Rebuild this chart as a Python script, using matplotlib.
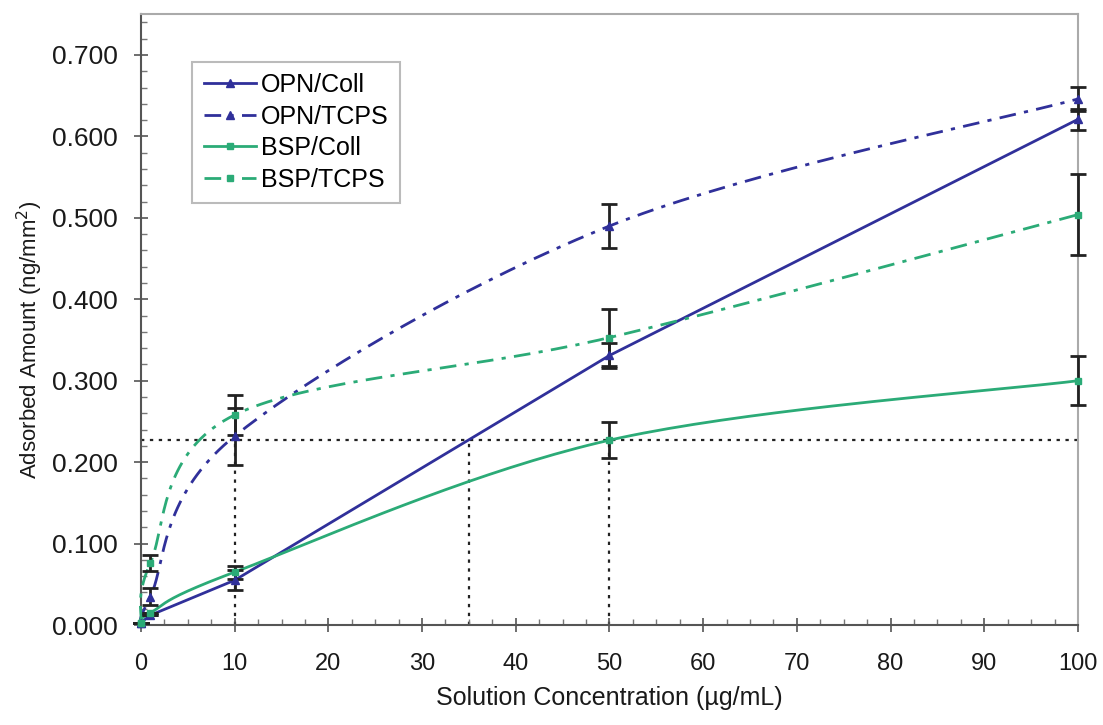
import numpy as np
import matplotlib
matplotlib.use("Agg")
import matplotlib.pyplot as plt
from matplotlib.ticker import MultipleLocator, FormatStrFormatter

plt.rcParams['font.family'] = ['Liberation Sans', 'DejaVu Sans']

# ---- data ----
conc = [0, 1, 10, 50, 100]
opn_coll = [0.003, 0.012, 0.055, 0.331, 0.621]
opn_coll_err = [0.0, 0.0, 0.012, 0.015, 0.013]
opn_tcps = [0.003, 0.035, 0.232, 0.490, 0.646]
opn_tcps_err = [0.0, 0.010, 0.035, 0.027, 0.015]
bsp_coll = [0.003, 0.015, 0.065, 0.227, 0.300]
bsp_coll_err = [0.0, 0.0, 0.008, 0.022, 0.030]
bsp_tcps = [0.003, 0.076, 0.258, 0.353, 0.504]
bsp_tcps_err = [0.0, 0.010, 0.025, 0.035, 0.050]
ref_level = 0.227
ref_x = [10, 35, 50]
ref_top = [0.232, 0.227, 0.227]

navy = '#30309a'
green = '#2bab77'


def smooth(xs, ys, n=40):
    """Catmull-Rom style smoothing (Excel 'smoothed line' look)."""
    P = np.column_stack([xs, ys]).astype(float)
    P = np.vstack([P[0], P, P[-1]])
    out = []
    for i in range(1, len(P) - 2):
        p0, p1, p2, p3 = P[i - 1], P[i], P[i + 1], P[i + 2]
        c1 = p1 + (p2 - p0) / 6.0
        c2 = p2 - (p3 - p1) / 6.0
        t = np.linspace(0, 1, n)[:, None]
        seg = ((1 - t) ** 3) * p1 + 3 * ((1 - t) ** 2) * t * c1 + 3 * (1 - t) * t ** 2 * c2 + t ** 3 * p2
        out.append(seg if i == 1 else seg[1:])
    s = np.vstack(out)
    return s[:, 0], s[:, 1]


fig = plt.figure(figsize=(11.03, 7.25), dpi=100)
ax = fig.add_axes([0.1278, 0.1379, 0.8495, 0.8424])

# reference dotted lines
ax.plot([0, 100], [ref_level, ref_level], color='#222222', ls=(0, (1.5, 2.5)), lw=1.6, zorder=1)
for xv, top in zip(ref_x, ref_top):
    ax.plot([xv, xv], [0, top], color='#222222', ls=(0, (1.5, 2.5)), lw=1.6, zorder=1)

series = [
    ('OPN/Coll', opn_coll, opn_coll_err, navy, '-', '^', False),
    ('OPN/TCPS', opn_tcps, opn_tcps_err, navy, (0, (6, 3, 1.5, 3)), '^', True),
    ('BSP/Coll', bsp_coll, bsp_coll_err, green, '-', 's', True),
    ('BSP/TCPS', bsp_tcps, bsp_tcps_err, green, (0, (6, 3, 1.5, 3)), 's', True),
]

handles = []
for name, ys, err, col, ls, mk, sm in series:
    if sm:
        sx, sy = smooth(conc, ys)
    else:
        sx, sy = np.array(conc, float), np.array(ys, float)
    ax.plot(sx, sy, color=col, ls=ls, lw=2.0, zorder=3, clip_on=False)
    eb = ax.errorbar(conc, ys, yerr=err, fmt='none', ecolor='#222222', elinewidth=2,
                     capsize=6, capthick=2, zorder=4)
    for art in eb.lines[1]:
        art.set_clip_on(False)
    for art in eb.lines[2]:
        art.set_clip_on(False)
    ax.plot(conc, ys, ls='none', marker=mk, color=col, ms=6 if mk == '^' else 4,
            zorder=5, clip_on=False)
    h, = ax.plot([], [], color=col, ls=ls, lw=2.0, marker=mk, ms=6 if mk == '^' else 4, label=name)
    handles.append(h)

ax.set_xlim(0, 100)
ax.set_ylim(0, 0.75)
ax.xaxis.set_major_locator(MultipleLocator(10))
ax.xaxis.set_minor_locator(MultipleLocator(2.5))
ax.yaxis.set_minor_locator(MultipleLocator(0.02))
ax.set_yticks([0, 0.1, 0.2, 0.3, 0.4, 0.5, 0.6, 0.7])
ax.yaxis.set_major_formatter(FormatStrFormatter('%.3f'))

ax.tick_params(axis='both', which='major', direction='inout', length=10, width=1.2,
               color='#555555', labelcolor='#1a1a1a')
ax.tick_params(axis='y', which='major', pad=11.5, labelsize=19)
ax.tick_params(axis='x', which='major', pad=15, labelsize=17)
ax.tick_params(axis='both', which='minor', direction='in', length=4, width=1.0, color='#777777')

for s in ['left', 'bottom']:
    ax.spines[s].set_color('#555555')
    ax.spines[s].set_linewidth(1.5)
for s in ['top', 'right']:
    ax.spines[s].set_color('#aaaaaa')
    ax.spines[s].set_linewidth(1.5)

ax.set_xlabel('Solution Concentration (\u00b5g/mL)', fontsize=18, color='#1a1a1a', labelpad=8)
ax.set_ylabel('Adsorbed Amount (ng/mm$^2$)', fontsize=16, color='#1a1a1a')
ax.yaxis.set_label_coords(-0.102, 0.467)

leg = ax.legend(handles=handles, loc='upper left', bbox_to_anchor=(0.055, 0.922),
                borderaxespad=0, fontsize=18, frameon=True, fancybox=False, edgecolor='#aaaaaa',
                handlelength=2.1, handletextpad=0.2, borderpad=0.45, labelspacing=0.3)
leg.get_frame().set_linewidth(1.5)

fig.savefig('out.png', dpi=100)
